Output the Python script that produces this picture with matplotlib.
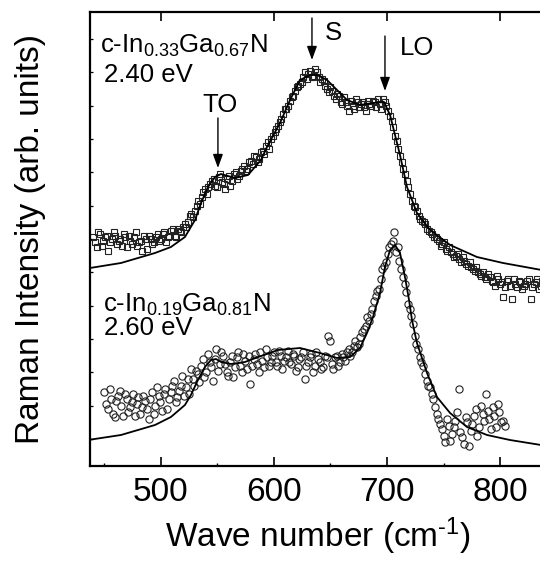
import matplotlib
matplotlib.use("Agg")
from matplotlib import pyplot as plt
from matplotlib.patches import ArrowStyle
from matplotlib.ticker import MultipleLocator, FixedLocator

# c-In0.33Ga0.67N, 2.40 eV (open squares), wavenumber in cm^-1
squares_x = [440, 443, 446, 449, 452, 455, 458, 461, 464, 467,
             470, 473, 476, 479, 482, 485, 488, 491, 494, 497,
             500, 503, 506, 509, 512, 515, 518, 521, 524, 527,
             530, 533, 536, 539, 542, 545, 548, 551, 554, 557,
             560, 563, 566, 569, 572, 575, 578, 581, 584, 587,
             590, 593, 596, 599, 602, 605, 608, 611, 614, 617,
             620, 623, 626, 629, 632, 635, 638, 641, 644, 647,
             650, 653, 656, 659, 662, 665, 668, 671, 674, 677,
             680, 683, 686, 689, 692, 695, 698, 701, 704, 707,
             710, 713, 716, 719, 722, 725, 728, 731, 734, 737,
             740, 743, 746, 749, 752, 755, 758, 761, 764, 767,
             770, 773, 776, 779, 782, 785, 788, 791, 794, 797,
             800, 803, 806, 809, 812, 815, 818, 821, 824, 827,
             830, 833, 836, 839]
squares_y = [7.05, 6.75, 7.15, 6.95, 7.10, 6.90, 7.20, 6.85, 7.00, 7.15,
             6.75, 6.95, 7.05, 6.80, 6.95, 7.10, 6.70, 7.00, 6.90, 7.15,
             7.00, 7.20, 7.05, 7.25, 7.10, 7.30, 7.20, 7.45, 7.50, 7.75,
             7.85, 8.15, 8.25, 8.50, 8.55, 8.75, 8.60, 8.85, 8.70, 8.50,
             8.90, 8.75, 9.00, 8.90, 9.10, 9.05, 9.30, 9.25, 9.45, 9.40,
             9.65, 9.80, 9.70, 10.10, 10.30, 10.50, 10.75, 10.90, 11.15, 11.30,
             11.55, 11.65, 11.85, 11.80, 12.05, 11.90, 12.00, 11.70, 11.75, 11.50,
             11.55, 11.30, 11.35, 11.10, 11.25, 11.00, 11.15, 10.90, 11.10, 11.05,
             10.95, 11.15, 11.00, 11.10, 11.20, 10.90, 11.10, 10.85, 10.55, 10.10,
             9.70, 9.30, 8.95, 8.55, 8.15, 7.95, 7.70, 7.55, 7.45, 7.25,
             7.15, 7.05, 6.95, 6.85, 6.70, 6.75, 6.55, 6.50, 6.40, 6.45,
             6.25, 6.30, 6.10, 6.15, 5.95, 6.00, 5.80, 5.85, 5.70, 5.90,
             5.65, 5.25, 5.75, 5.60, 5.80, 5.55, 5.70, 5.60, 5.75, 5.20,
             5.65, 5.80, 5.60, 5.70]
# second sweep of the same spectrum (points between the ones above)
squares_x2 = [441.5, 444.5, 447.5, 450.5, 453.5, 456.5, 459.5, 462.5, 465.5, 468.5,
              471.5, 474.5, 477.5, 480.5, 483.5, 486.5, 489.5, 492.5, 495.5, 498.5,
              501.5, 504.5, 507.5, 510.5, 513.5, 516.5, 519.5, 522.5, 525.5, 528.5,
              531.5, 534.5, 537.5, 540.5, 543.5, 546.5, 549.5, 552.5, 555.5, 558.5,
              561.5, 564.5, 567.5, 570.5, 573.5, 576.5, 579.5, 582.5, 585.5, 588.5,
              591.5, 594.5, 597.5, 600.5, 603.5, 606.5, 609.5, 612.5, 615.5, 618.5,
              621.5, 624.5, 627.5, 630.5, 633.5, 636.5, 639.5, 642.5, 645.5, 648.5,
              651.5, 654.5, 657.5, 660.5, 663.5, 666.5, 669.5, 672.5, 675.5, 678.5,
              681.5, 684.5, 687.5, 690.5, 693.5, 696.5, 699.5, 702.5, 705.5, 708.5,
              711.5, 714.5, 717.5, 720.5, 723.5, 726.5, 729.5, 732.5, 735.5, 738.5,
              741.5, 744.5, 747.5, 750.5, 753.5, 756.5, 759.5, 762.5, 765.5, 768.5,
              771.5, 774.5, 777.5, 780.5, 783.5, 786.5, 789.5, 792.5, 795.5, 798.5,
              801.5, 804.5, 807.5, 810.5, 813.5, 816.5, 819.5, 822.5, 825.5, 828.5,
              831.5, 834.5, 837.5]
squares_y2 = [6.90, 7.20, 6.80, 7.05, 6.65, 7.00, 7.10, 6.95, 6.80, 7.05,
              7.10, 6.85, 7.20, 6.90, 6.65, 7.00, 7.10, 6.85, 7.05, 6.95,
              7.15, 6.90, 7.10, 7.30, 7.05, 7.25, 7.35, 7.35, 7.70, 7.65,
              8.00, 8.05, 8.40, 8.35, 8.65, 8.80, 8.55, 8.95, 8.65, 8.80,
              8.60, 8.95, 8.80, 9.05, 9.20, 9.10, 9.35, 9.50, 9.30, 9.60,
              9.55, 9.90, 10.00, 10.20, 10.40, 10.60, 10.90, 11.00, 11.25, 11.45,
              11.60, 11.70, 12.00, 11.95, 11.85, 12.10, 11.85, 11.80, 11.60, 11.40,
              11.45, 11.20, 11.30, 11.05, 11.10, 10.85, 11.00, 11.20, 10.95, 11.10,
              10.85, 11.05, 11.15, 10.95, 11.05, 11.20, 11.00, 10.70, 10.35, 9.95,
              9.50, 9.10, 8.75, 8.35, 8.00, 7.85, 7.60, 7.50, 7.30, 7.20,
              7.05, 7.00, 6.80, 6.90, 6.65, 6.60, 6.45, 6.55, 6.30, 6.35,
              6.20, 6.15, 6.05, 6.00, 5.90, 5.85, 5.95, 5.75, 5.60, 5.80,
              5.70, 5.55, 5.80, 5.20, 5.65, 5.75, 5.50, 5.65, 5.80, 5.55,
              5.70, 5.50, 5.75]

# fit curve for the upper spectrum
fit_top_x = [437.2, 464.6, 494.7, 508.8, 521.2, 530.1, 535.4, 541.6, 547.8, 553.1,
             559.3, 565.5, 577.0, 588.5, 593.8, 605.3, 614.2, 623.0, 631.9, 638.1,
             646.9, 655.8, 664.6, 676.1, 687.6, 697.3, 702.7, 707.1, 711.5, 717.7,
             726.5, 738.1, 755.8, 779.6, 802.7, 840.0]
fit_top_y = [6.13, 6.28, 6.58, 6.76, 7.06, 7.57, 8.08, 8.56, 8.86, 8.95,
             8.89, 8.83, 8.92, 9.37, 9.76, 10.48, 11.17, 11.77, 11.92, 11.92,
             11.77, 11.47, 11.17, 11.02, 11.08, 11.11, 10.72, 10.12, 9.52, 8.56,
             7.78, 7.27, 6.82, 6.46, 6.28, 6.05]

# c-In0.19Ga0.81N, 2.60 eV (open circles)
circles_x = [450, 453, 456, 459, 462, 465, 468, 471, 474, 477,
             480, 483, 486, 489, 492, 495, 498, 501, 504, 507,
             510, 513, 516, 519, 522, 525, 528, 531, 534, 537,
             540, 543, 546, 549, 552, 555, 558, 561, 564, 567,
             570, 573, 576, 579, 582, 585, 588, 591, 594, 597,
             600, 603, 606, 609, 612, 615, 618, 621, 624, 627,
             630, 633, 636, 639, 642, 645, 648, 651, 654, 657,
             660, 663, 666, 669, 672, 675, 678, 681, 684, 687,
             690, 693, 696, 699, 702, 705, 708, 711, 714, 717,
             720, 723, 726, 729, 732, 735, 738, 741, 744, 747,
             750, 753, 756, 759, 762, 765, 768, 771, 774, 777,
             780, 783, 786, 789, 792, 795, 798, 801, 804]
circles_y = [2.40, 1.90, 2.20, 1.65, 2.30, 2.00, 2.35, 1.80, 2.10, 1.70,
             2.25, 1.95, 2.15, 1.60, 2.40, 2.00, 2.30, 1.85, 2.50, 2.20,
             2.60, 2.10, 2.45, 2.90, 2.55, 2.35, 2.80, 3.05, 2.70, 3.40,
             3.00, 3.30, 2.75, 3.70, 3.25, 3.50, 3.00, 3.30, 2.85, 3.45,
             3.20, 3.55, 3.10, 2.65, 3.40, 3.25, 3.60, 3.15, 3.45, 3.30,
             3.60, 3.20, 3.50, 3.35, 3.65, 3.25, 3.50, 3.15, 3.45, 2.80,
             3.30, 3.55, 3.20, 3.40, 3.10, 3.50, 4.10, 3.25, 3.45, 3.20,
             3.55, 3.35, 3.70, 3.60, 3.95, 3.85, 4.20, 4.40, 4.55, 4.90,
             5.30, 5.50, 6.10, 6.30, 6.75, 6.95, 6.60, 6.35, 5.85, 5.40,
             4.90, 4.45, 3.85, 3.45, 3.20, 2.75, 2.55, 2.20, 1.75, 1.45,
             1.10, 1.60, 0.95, 1.35, 1.80, 1.20, 0.85, 1.50, 1.25, 1.70,
             1.10, 2.00, 1.55, 1.85, 1.30, 1.70, 2.05, 1.50, 1.40]
circles_x2 = [451.5, 454.5, 457.5, 460.5, 463.5, 466.5, 469.5, 472.5, 475.5, 478.5,
              481.5, 484.5, 487.5, 490.5, 493.5, 496.5, 499.5, 502.5, 505.5, 508.5,
              511.5, 514.5, 517.5, 520.5, 523.5, 526.5, 529.5, 532.5, 535.5, 538.5,
              541.5, 544.5, 547.5, 550.5, 553.5, 556.5, 559.5, 562.5, 565.5, 568.5,
              571.5, 574.5, 577.5, 580.5, 583.5, 586.5, 589.5, 592.5, 595.5, 598.5,
              601.5, 604.5, 607.5, 610.5, 613.5, 616.5, 619.5, 622.5, 625.5, 628.5,
              631.5, 634.5, 637.5, 640.5, 643.5, 646.5, 649.5, 652.5, 655.5, 658.5,
              661.5, 664.5, 667.5, 670.5, 673.5, 676.5, 679.5, 682.5, 685.5, 688.5,
              691.5, 694.5, 697.5, 700.5, 703.5, 706.5, 709.5, 712.5, 715.5, 718.5,
              721.5, 724.5, 727.5, 730.5, 733.5, 736.5, 739.5, 742.5, 745.5, 748.5,
              751.5, 754.5, 757.5, 760.5, 763.5, 766.5, 769.5, 772.5, 775.5, 778.5,
              781.5, 784.5, 787.5, 790.5, 793.5, 796.5, 799.5, 802.5]
circles_y2 = [2.05, 2.50, 1.75, 2.15, 2.45, 1.70, 2.20, 1.95, 2.35, 2.05,
              1.75, 2.30, 1.90, 2.20, 1.75, 2.55, 2.10, 2.35, 1.90, 2.40,
              2.75, 2.25, 2.60, 2.30, 2.80, 3.10, 2.60, 2.95, 3.20, 2.85,
              3.55, 3.15, 3.40, 3.05, 3.60, 3.25, 2.90, 3.50, 3.15, 3.60,
              3.00, 3.35, 3.50, 3.20, 3.55, 3.00, 3.35, 3.70, 3.20, 3.50,
              3.30, 3.65, 3.10, 3.45, 3.30, 3.55, 3.05, 3.40, 3.60, 3.20,
              3.45, 3.00, 3.60, 3.30, 3.15, 3.45, 3.95, 3.10, 3.50, 3.30,
              3.45, 3.60, 3.50, 3.80, 3.75, 4.05, 4.30, 4.65, 4.75, 5.15,
              5.45, 5.80, 6.20, 6.55, 6.85, 7.20, 6.75, 6.10, 5.65, 5.05,
              4.70, 4.10, 3.70, 3.30, 2.95, 2.60, 2.35, 1.95, 1.60, 1.30,
              0.90, 1.40, 1.15, 1.55, 2.50, 1.05, 1.65, 0.80, 1.45, 1.90,
              1.35, 1.75, 2.35, 1.60, 1.95, 1.35, 1.80, 1.55]

# fit curve for the lower spectrum
fit_bot_x = [435.4, 464.6, 494.7, 508.8, 521.2, 526.5, 532.7, 538.9, 544.2, 548.7,
             553.1, 561.9, 574.3, 588.5, 603.5, 623.0, 640.7, 655.8, 667.3, 676.1,
             682.3, 687.6, 693.8, 698.2, 702.7, 707.1, 711.5, 715.9, 719.5, 722.1,
             726.5, 735.4, 744.2, 755.8, 770.8, 788.5, 808.8, 840.0]
fit_bot_y = [0.97, 1.12, 1.42, 1.66, 2.02, 2.32, 2.77, 3.16, 3.37, 3.40,
             3.31, 3.25, 3.31, 3.49, 3.67, 3.73, 3.58, 3.43, 3.46, 3.73,
             4.18, 4.66, 5.38, 6.16, 6.67, 6.82, 6.58, 5.86, 5.17, 4.57,
             3.88, 2.98, 2.26, 1.78, 1.36, 1.12, 0.97, 0.80]

x_ticks = [500, 600, 700, 800]

plt.rcParams['font.family'] = ['Liberation Sans', 'DejaVu Sans']
plt.rcParams['mathtext.default'] = 'regular'

fig = plt.figure(figsize=(5.4, 5.63), dpi=100)
ax = fig.add_axes([90 / 540, 97 / 563, 455 / 540, 454 / 563])

marker_style = dict(ls='none', mfc='none', mec='#222222', mew=0.8, zorder=2)
ax.plot(squares_x, squares_y, marker='s', ms=5.0, **marker_style)
ax.plot(squares_x2, squares_y2, marker='s', ms=5.0, **marker_style)
ax.plot(circles_x, circles_y, marker='o', ms=5.2, **marker_style)
ax.plot(circles_x2, circles_y2, marker='o', ms=5.2, **marker_style)
ax.plot(fit_top_x, fit_top_y, color='black', lw=1.3, zorder=3)
ax.plot(fit_bot_x, fit_bot_y, color='black', lw=1.3, zorder=3)

ax.set_xlim(437.2, 839.8)
ax.set_ylim(0.19, 13.81)

ax.xaxis.set_major_locator(FixedLocator(x_ticks))
ax.xaxis.set_minor_locator(MultipleLocator(50))
ax.yaxis.set_major_locator(MultipleLocator(1))
ax.tick_params(axis='x', which='major', direction='in', top=True, length=6.5,
               width=1.2, labelsize=24, pad=8)
ax.tick_params(axis='x', which='minor', direction='in', top=False, length=2.5, width=1.0)
ax.tick_params(axis='y', which='major', direction='in', length=2.2, width=0.9,
               labelleft=False)
for side in ['left', 'bottom', 'top', 'right']:
    ax.spines[side].set_linewidth(1.6)

ax.set_xlabel('Wave number (cm$^{\u20101}$)', fontsize=24, labelpad=5)
ax.set_ylabel('Raman Intensity (arb. units)', fontsize=24)
ax.yaxis.set_label_coords(-0.097, 0.5)

# sample labels
ax.text(446, 12.58, 'c-In$_{0.33}$Ga$_{0.67}$N', fontsize=18.5, va='baseline')
ax.text(449.6, 11.71, '2.40 eV', fontsize=18.5, va='baseline')
ax.text(448.7, 4.81, 'c-In$_{0.19}$Ga$_{0.81}$N', fontsize=18.5, va='baseline')
ax.text(449.6, 4.12, '2.60 eV', fontsize=18.5, va='baseline')

# phonon modes with arrows
arrow = ArrowStyle('-|>', head_length=0.55, head_width=0.2)
modes = [('TO', 537, 10.81, 550.4, 10.63, 9.13),
         ('S', 645, 12.97, 633.6, 13.63, 12.37),
         ('LO', 711.5, 12.52, 698.2, 13.09, 11.44)]
for name, tx, ty, ax_x, y0, y1 in modes:
    ax.text(tx, ty, name, fontsize=18.5, va='baseline')
    ax.annotate('', xy=(ax_x, y1), xytext=(ax_x, y0),
                arrowprops=dict(arrowstyle=arrow, color='black', lw=1.0,
                                mutation_scale=15, shrinkA=0, shrinkB=0))

plt.savefig('out.png', dpi=100)
